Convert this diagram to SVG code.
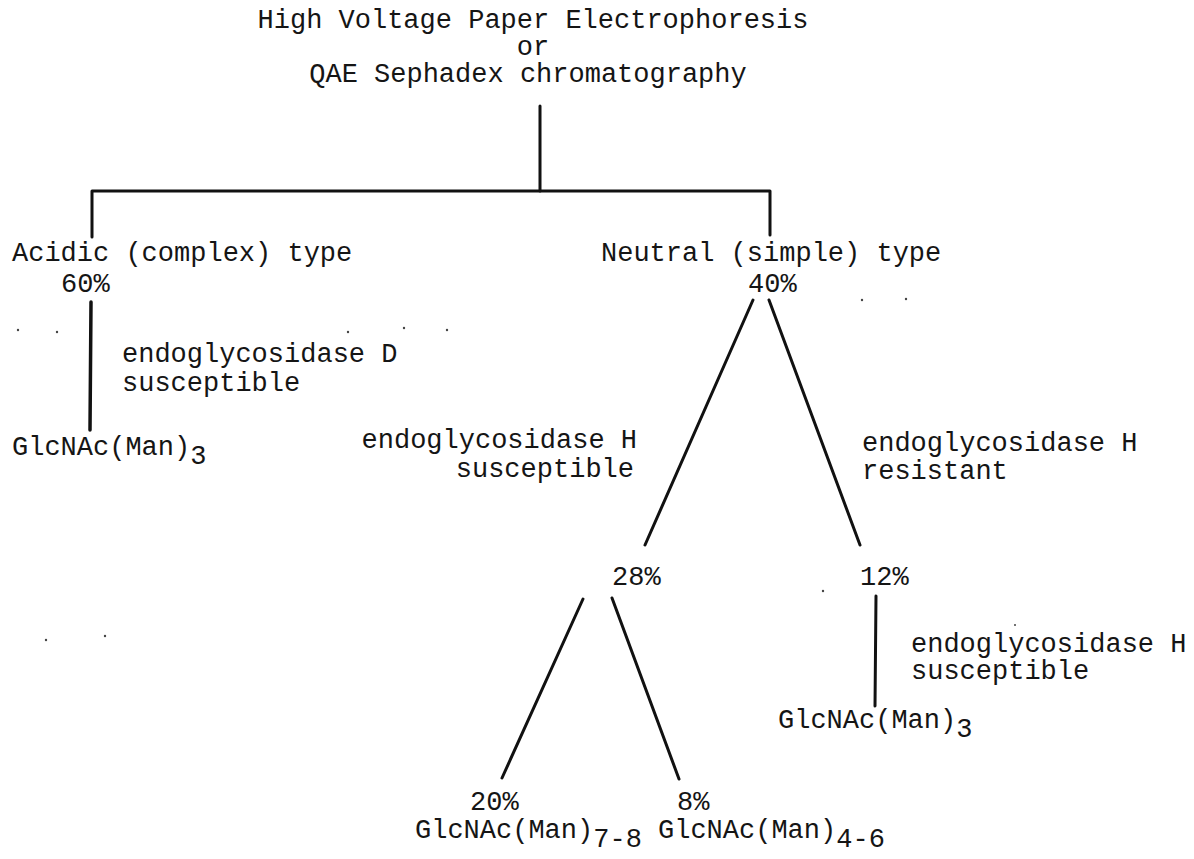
<svg xmlns="http://www.w3.org/2000/svg" width="1194" height="859" viewBox="0 0 1194 859">
<style>
text{font-family:"Liberation Mono","DejaVu Sans Mono",monospace;font-size:27px;fill:#151515}
.c{text-anchor:middle}
.e{text-anchor:end}
.ln{stroke:#111;stroke-width:3;fill:none;stroke-linecap:round;stroke-linejoin:round}
.dot{fill:#444}
</style>
<rect width="1194" height="859" fill="#fff"/>
<g id="connectors">
<path class="ln" d="M540,106 V191"/>
<path class="ln" d="M92,237 V191 H770 V235"/>
<path class="ln" d="M91,302 L90,430" style="stroke-width:3.5"/>
<path class="ln" d="M753,300 L645,545"/>
<path class="ln" d="M769,300 L860,545"/>
<path class="ln" d="M583,599 L502,778"/>
<path class="ln" d="M612,598 L679,779"/>
<path class="ln" d="M876,596 L875,706"/>
</g>
<g id="root">
<text class="c" x="533" y="28">High Voltage Paper Electrophoresis</text>
<text class="c" x="533" y="55">or</text>
<text class="c" x="528" y="82">QAE Sephadex chromatography</text>
</g>
<g id="acidic">
<text x="12" y="261">Acidic (complex) type</text>
<text x="61" y="292">60%</text>
</g>
<g id="label-endoD">
<text x="122" y="362">endoglycosidase D</text>
<text x="122" y="391">susceptible</text>
</g>
<g id="acidic-product">
<text x="12" y="455">GlcNAc(Man)<tspan dy="9">3</tspan></text>
</g>
<g id="neutral">
<text x="601" y="261">Neutral (simple) type</text>
<text x="748" y="292">40%</text>
</g>
<g id="label-endoH-susc">
<text class="e" x="637" y="448">endoglycosidase H</text>
<text class="e" x="634" y="477">susceptible</text>
</g>
<g id="label-endoH-res">
<text x="862" y="451">endoglycosidase H</text>
<text x="862" y="479">resistant</text>
</g>
<g id="n28">
<text x="612" y="585">28%</text>
</g>
<g id="n12">
<text x="860" y="585">12%</text>
</g>
<g id="label-endoH-susc2">
<text x="911" y="652">endoglycosidase H</text>
<text x="911" y="679">susceptible</text>
</g>
<g id="neutral-product">
<text x="778" y="728">GlcNAc(Man)<tspan dy="9">3</tspan></text>
</g>
<g id="n20">
<text x="470" y="810">20%</text>
<text x="415" y="838">GlcNAc(Man)<tspan dy="9">7-8</tspan></text>
</g>
<g id="n8">
<text x="677" y="810">8%</text>
<text x="658" y="838">GlcNAc(Man)<tspan dy="9">4-6</tspan></text>
</g>
<g id="specks">
<circle class="dot" cx="18" cy="330" r="1.2"/>
<circle class="dot" cx="57" cy="332" r="1.2"/>
<circle class="dot" cx="348" cy="332" r="1.2"/>
<circle class="dot" cx="404" cy="328" r="1.2"/>
<circle class="dot" cx="447" cy="330" r="1.2"/>
<circle class="dot" cx="862" cy="300" r="1.2"/>
<circle class="dot" cx="906" cy="299" r="1.2"/>
<circle class="dot" cx="46" cy="640" r="1.2"/>
<circle class="dot" cx="105" cy="636" r="1.2"/>
<circle class="dot" cx="823" cy="591" r="1.2"/>
<circle class="dot" cx="1015" cy="625" r="1"/>
</g>
</svg>
